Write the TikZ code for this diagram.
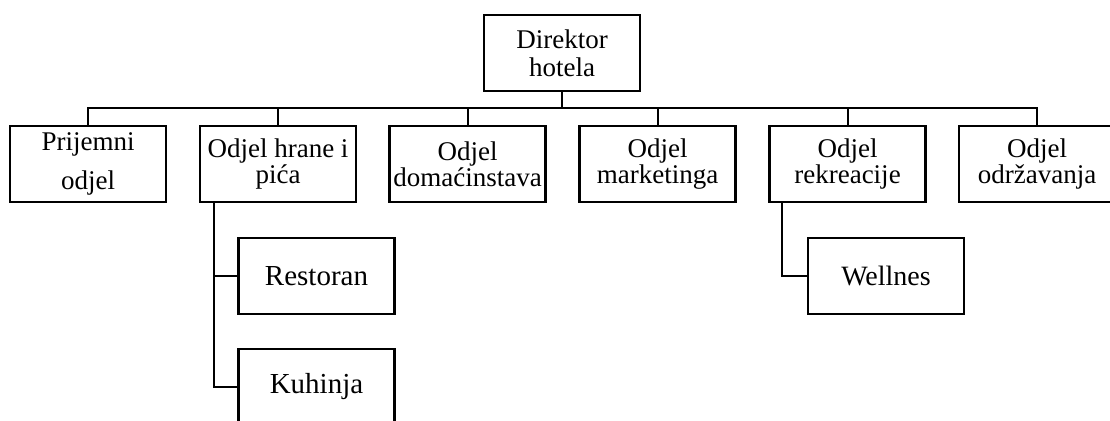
\documentclass[tikz,border=0pt]{standalone}
\usepackage{fontspec}
\setmainfont{Liberation Serif}
\usetikzlibrary{positioning}

\tikzset{
  unit/.style={draw=black, line width=2.6pt, minimum width=156pt, minimum height=76pt,
    inner sep=2pt, align=center, font=\fontsize{27}{26}\selectfont},
  subunit/.style={unit, font=\fontsize{29}{29}\selectfont},
  conn/.style={draw=black, line width=2pt}
}

\begin{document}
\begin{tikzpicture}[x=1pt,y=-1pt]
     \useasboundingbox (0,0) rectangle (1110,420);
     \coordinate (bus) at (0,108);
      \node[unit, font=\fontsize{27}{28}\selectfont] (dir) at (562,53) {Direktor\\hotela};
      \node[unit] (prij) at (88,164) {Prijemni\\[13pt]odjel};
      \node[unit] (hrana) at (278,164) {Odjel hrane i\\pića};
      \node[unit] (dom) at (467.5,164) {Odjel\\domaćinstava};
      \node[unit] (mark) at (657.5,164) {Odjel\\marketinga};
      \node[unit] (rekr) at (847.5,164) {Odjel\\rekreacije};
      \node[unit] (odrz) at (1037,164) {Odjel\\održavanja};
      \node[subunit] (rest) at (316.5,276) {Restoran};
      \node[subunit] (kuh) at (316.5,387) {Kuhinja};
      \node[subunit, font=\fontsize{28}{28}\selectfont] (well) at (886,276) {Wellnes};
      \draw[conn, line width=2.6pt] (dir.south) -- (dir.south |- bus);
      \draw[conn] (prij.north) -- (prij.north |- bus) -- (odrz.north |- bus) -- (odrz.north);
      \foreach \n in {hrana,dom,mark,rekr}
        \draw[conn] (\n.north) -- (\n.north |- bus);
      \draw[conn] ([xshift=15pt]hrana.south west) |- (rest.west);
      \draw[conn] ([xshift=15pt]hrana.south west) |- (kuh.west);
      \draw[conn] ([xshift=14pt]rekr.south west) |- (well.west);
\end{tikzpicture}
\end{document}
